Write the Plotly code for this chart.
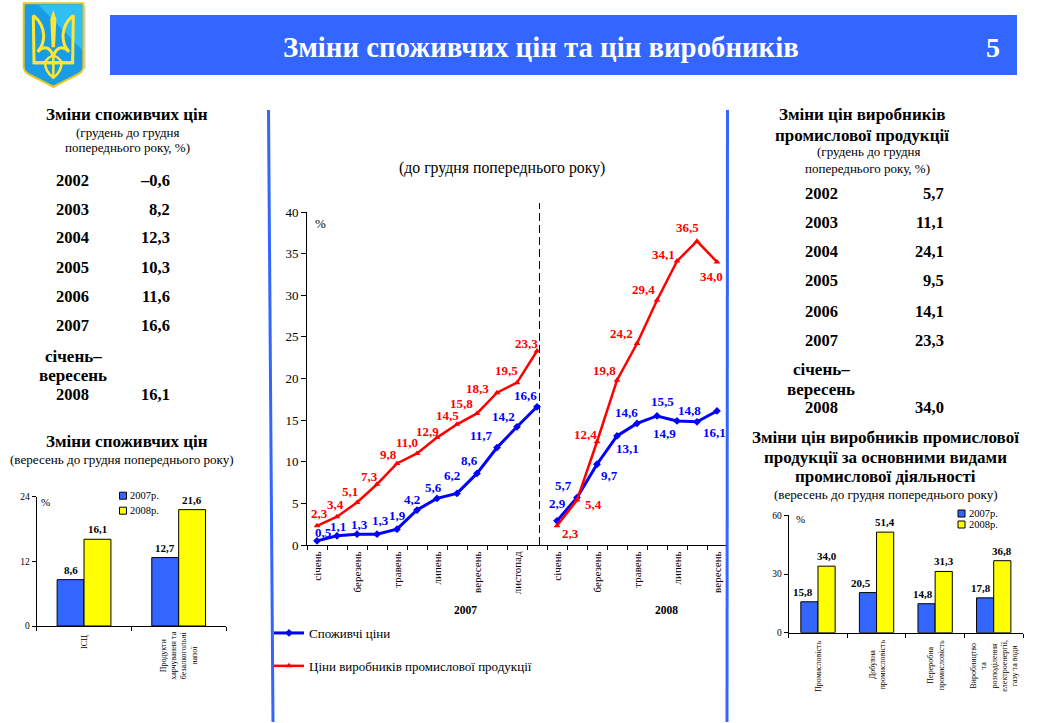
import plotly.graph_objects as go

W, H = 1037, 723
SERIF = "Liberation Serif"
BLUE = "#0000ff"
RED = "#ff0000"
BAR_BLUE = "#3366ff"
BAR_YELLOW = "#ffff00"

# ---- data ----
months_2007 = ["січень", "лютий", "березень", "квітень", "травень", "червень", "липень",
               "серпень", "вересень", "жовтень", "листопад", "грудень"]
months_2008 = ["січень", "лютий", "березень", "квітень", "травень", "червень", "липень",
               "серпень", "вересень"]
cpi_2007 = [0.5, 1.1, 1.3, 1.3, 1.9, 4.2, 5.6, 6.2, 8.6, 11.7, 14.2, 16.6]
cpi_2008 = [2.9, 5.7, 9.7, 13.1, 14.6, 15.5, 14.9, 14.8, 16.1]
ppi_2007 = [2.3, 3.4, 5.1, 7.3, 9.8, 11.0, 12.9, 14.5, 15.8, 18.3, 19.5, 23.3]
ppi_2008 = [2.3, 5.4, 12.4, 19.8, 24.2, 29.4, 34.1, 36.5, 34.0]

cpi_table_years = ["2002", "2003", "2004", "2005", "2006", "2007", "2008"]
cpi_table_values = ["–0,6", "8,2", "12,3", "10,3", "11,6", "16,6", "16,1"]
ppi_table_values = ["5,7", "11,1", "24,1", "9,5", "14,1", "23,3", "34,0"]

left_categories = ["ІСЦ", "Продукти<br>харчування та<br>безалкогольні<br>напої"]
left_2007 = [8.6, 12.7]
left_2008 = [16.1, 21.6]

right_categories = ["Промисловість", "Добувна<br>промисловість", "Переробна<br>промисловість",
                    "Виробництво<br>та<br>розподілення<br>електроенергії,<br>газу та води"]
right_2007 = [15.8, 20.5, 14.8, 17.8]
right_2008 = [34.0, 51.4, 31.3, 36.8]

# label offsets in pixels from each point (dx, dy with up positive)
cpi_off = [(6, 8), (1, 9), (2, 10), (3, 13.5), (0, 14), (-5, 11), (-4, 11), (-5, 18), (-8, 12.6),
           (-16, 12), (-14, 10.7), (-12, 11),
           (0, 17.5), (-14, 12), (12, -11), (10, -13), (-11, 11), (5, 14.6), (-13, -12.4), (-8, 11.4), (-3, -22)]
ppi_off = [(2, 12), (-2, 12), (-7, 11), (-8, 7.5), (-9, 9), (-10, 11), (-10, 6.5), (-10, 8.5), (-16, 10),
           (-20, 4), (-11, 12), (-11, 8),
           (13, -8), (16, -4), (-12, 7), (-13, 10), (-16, 10), (-14, 11), (-14, 7), (-10, 14), (-6, -15)]


def px(x):
    return x / W


def py(y):
    return 1 - y / H


def text(x, y, s, size=15, bold=False, anchor="center", color="black", angle=0):
    return dict(xref="paper", yref="paper", x=px(x), y=py(y), text=f"<b>{s}</b>" if bold else s,
                showarrow=False, xanchor=anchor, yanchor="middle", textangle=angle,
                font=dict(family=SERIF, size=size, color=color), align="center")


annotations = []
shapes = []

# ---- emblem (decorative, drawn in zoomed reference coords) ----
def ex(v):
    return px(15 + v / 3)


def ey(v):
    return py(v / 3)


def path(cmds):
    out = []
    for c in cmds:
        op = c[0]
        pts = c[1:]
        coords = []
        for i in range(0, len(pts), 2):
            coords.append(f"{ex(pts[i]):.5f},{ey(pts[i + 1]):.5f}")
        out.append(op + " ".join(coords))
    return " ".join(out)


def mirror(cmds):
    out = []
    for c in cmds:
        pts = list(c[1:])
        for i in range(0, len(pts), 2):
            pts[i] = 230 - pts[i]
        out.append((c[0], *pts))
    return out


shield = [("M", 26, 10), ("L", 205, 10), ("L", 205, 200), ("Q", 205, 215, 185, 225),
          ("L", 115, 260), ("L", 45, 225), ("Q", 26, 215, 26, 200), ("Z",)]
shapes.append(dict(type="path", xref="paper", yref="paper",
                   path=path([("M", 32, 16), ("L", 212, 16), ("L", 212, 205), ("L", 115, 266), ("L", 32, 205), ("Z",)]),
                   fillcolor="#d8d8d8", line=dict(width=0)))
shapes.append(dict(type="path", xref="paper", yref="paper", path=path(shield),
                   fillcolor="#1a9ce4", line=dict(color="#e8c820", width=2)))
shapes.append(dict(type="path", xref="paper", yref="paper",
                   path=path([("M", 70, 14), ("L", 202, 14), ("L", 202, 150), ("Z",)]),
                   fillcolor="#35c8f8", opacity=0.8, line=dict(width=0)))
shapes.append(dict(type="path", xref="paper", yref="paper",
                   path=path([("M", 115, 30), ("L", 124, 58), ("L", 120, 142), ("L", 110, 142), ("L", 106, 58), ("Z",)]),
                   fillcolor="#ffe633", line=dict(width=0)))
tri_left = [
    [("M", 55, 46), ("L", 57, 188), ("L", 175, 188)],
    [("M", 55, 46), ("Q", 84, 70, 86, 105), ("Q", 87, 135, 68, 155)],
    [("M", 68, 155), ("Q", 98, 128, 114, 165)],
]
for p in tri_left:
    shapes.append(dict(type="path", xref="paper", yref="paper", path=path(p),
                       line=dict(color="#ffe633", width=3)))
    shapes.append(dict(type="path", xref="paper", yref="paper", path=path(mirror(p)),
                       line=dict(color="#ffe633", width=3)))
shapes.append(dict(type="path", xref="paper", yref="paper",
                   path=path([("M", 90, 186), ("Q", 90, 215, 115, 233), ("Q", 140, 215, 140, 186),
                              ("Q", 115, 150, 90, 186), ("Z",)]),
                   line=dict(color="#ffe633", width=2.5)))
shapes.append(dict(type="path", xref="paper", yref="paper",
                   path=path([("M", 115, 165), ("L", 115, 233)]),
                   line=dict(color="#ffe633", width=2.5)))

# ---- header ----
shapes.append(dict(type="rect", xref="paper", yref="paper", x0=px(110), x1=px(1017), y0=py(75), y1=py(15),
                   fillcolor=BAR_BLUE, line=dict(width=0)))
annotations.append(text(540.5, 47.5, "Зміни споживчих цін та цін виробників", 28.8, True, color="white"))
annotations.append(text(993, 47.5, "5", 28, True, color="white"))

# ---- vertical rules ----
shapes.append(dict(type="line", xref="paper", yref="paper", x0=px(268.5), x1=px(273), y0=py(110), y1=py(722),
                   line=dict(color=BAR_BLUE, width=3)))
shapes.append(dict(type="line", xref="paper", yref="paper", x0=px(727.5), x1=px(727), y0=py(110), y1=py(722),
                   line=dict(color=BAR_BLUE, width=3)))

# ---- left column text ----
annotations += [
    text(127, 115, "Зміни споживчих цін", 17, True),
    text(127, 132.5, "(грудень до грудня", 13),
    text(127, 148, "попереднього року, %)", 13),
    text(127, 441, "Зміни споживчих цін", 17, True),
    text(121.5, 459, "(вересень до грудня попереднього року)", 13.1),
]
left_rows = [180.3, 209, 238, 267.3, 296.7, 325.7, 395]
for yr, val, y in zip(cpi_table_years, cpi_table_values, left_rows):
    annotations.append(text(72.7, y, yr, 16.5, True))
    annotations.append(text(172, y, val, 16.5, True, anchor="right"))
annotations.append(text(73, 356.7, "січень–", 17, True))
annotations.append(text(72.5, 375.7, "вересень", 17, True))

# ---- right column text ----
annotations += [
    text(861.7, 115, "Зміни цін виробників", 17, True),
    text(861.7, 135.7, "промислової продукції", 17, True),
    text(868, 151.7, "(грудень до грудня", 13),
    text(867, 168.3, "попереднього року, %)", 13),
    text(885.7, 437.7, "Зміни цін виробників промислової", 17, True),
    text(885.7, 457.3, "продукції за основними видами", 17, True),
    text(885.7, 476.7, "промислової діяльності", 17, True),
    text(885.7, 494, "(вересень до грудня попереднього року)", 13.1),
]
right_rows = [193.3, 222.7, 251.7, 281, 311, 340, 407.7]
for yr, val, y in zip(cpi_table_years, ppi_table_values, right_rows):
    annotations.append(text(821, y, yr, 16.5, True))
    annotations.append(text(946, y, val, 16.5, True, anchor="right"))
annotations.append(text(821.7, 370, "січень–", 17, True))
annotations.append(text(821, 389.3, "вересень", 17, True))

# ---- main chart ----
annotations += [
    text(502, 168, "(до грудня попереднього року)", 15.8),
    text(320, 223, "%", 13),
    text(465, 610, "2007", 11.5, True),
    text(666, 610, "2008", 11.5, True),
]

idx_2007 = list(range(len(cpi_2007)))
idx_2008 = [len(cpi_2007) + i for i in range(len(cpi_2008))]
xs = idx_2007 + [None] + idx_2008
all_months = months_2007 + months_2008

fig = go.Figure()
fig.add_trace(go.Scatter(x=xs, y=cpi_2007 + [None] + cpi_2008, name="Споживчі ціни", mode="lines+markers",
                         line=dict(color=BLUE, width=3), marker=dict(symbol="diamond", size=6, color=BLUE),
                         legendgroup="a", xaxis="x", yaxis="y", cliponaxis=False))
fig.add_trace(go.Scatter(x=xs, y=ppi_2007 + [None] + ppi_2008, name="Ціни виробників промислової продукції",
                         mode="lines+markers", line=dict(color=RED, width=2.5),
                         marker=dict(symbol="triangle-up", size=6, color=RED),
                         legendgroup="b", xaxis="x", yaxis="y", cliponaxis=False))

all_idx = idx_2007 + idx_2008
for series, off, color in ((cpi_2007 + cpi_2008, cpi_off, BLUE), (ppi_2007 + ppi_2008, ppi_off, RED)):
    for i, v, (dx, dy) in zip(all_idx, series, off):
        annotations.append(dict(xref="x", yref="y", x=i, y=v, xshift=dx, yshift=dy, showarrow=False,
                                text="<b>" + f"{v:.1f}".replace(".", ",") + "</b>",
                                font=dict(family=SERIF, size=13, color=color),
                                xanchor="center", yanchor="middle"))

shapes.append(dict(type="line", xref="x", yref="paper", x0=11.125, x1=11.125, y0=py(545), y1=py(203),
                   line=dict(color="black", width=1, dash="8px,4px")))

# ---- small bar charts ----
def bars(xaxis, yaxis, vals07, vals08, width):
    xv = list(range(len(vals07)))
    fig.add_trace(go.Bar(x=xv, y=vals07, width=width, offset=-width, marker=dict(color=BAR_BLUE, line=dict(color="black", width=1)),
                         name="2007р.", showlegend=False, xaxis=xaxis, yaxis=yaxis))
    fig.add_trace(go.Bar(x=xv, y=vals08, width=width, offset=0, marker=dict(color=BAR_YELLOW, line=dict(color="black", width=1)),
                         name="2008р.", showlegend=False, xaxis=xaxis, yaxis=yaxis))


bars("x2", "y2", left_2007, left_2008, 0.284)
bars("x3", "y3", right_2007, right_2008, 0.293)


def bar_labels(xa, ya, vals, centre, shifts):
    for i, (v, s) in enumerate(zip(vals, shifts)):
        annotations.append(dict(xref=xa, yref=ya, x=i + centre, y=v, xshift=s, yshift=10, showarrow=False,
                                text="<b>" + f"{v:.1f}".replace(".", ",") + "</b>",
                                font=dict(family=SERIF, size=11, color="black"),
                                xanchor="center", yanchor="middle"))


bar_labels("x2", "y2", left_2007, -0.142, [0, 0])
bar_labels("x2", "y2", left_2008, 0.142, [0, 0])
bar_labels("x3", "y3", right_2007, -0.146, [-6, -7, -4, -4])
bar_labels("x3", "y3", right_2008, 0.146, [0, 0, 0, 0])


def category_labels(xa, cats, tops):
    # rotated, centre-aligned multi-line category names
    for i, (c, top) in enumerate(zip(cats, tops)):
        annotations.append(dict(xref=xa, yref="paper", x=i, y=py(top), text=c, showarrow=False, textangle=-90,
                                xanchor="center", yanchor="top", align="center",
                                font=dict(family=SERIF, size=8, color="black")))


category_labels("x2", left_categories, [633, 630])
category_labels("x3", right_categories, [638, 638, 638, 638])

annotations += [text(45, 502, "%", 11), text(800.5, 519, "%", 11)]


def mini_legend(x, y1, y2):
    for y, col, lab in ((y1, BAR_BLUE, "2007р."), (y2, BAR_YELLOW, "2008р.")):
        shapes.append(dict(type="rect", xref="paper", yref="paper", x0=px(x), x1=px(x + 7), y0=py(y + 3.5), y1=py(y - 3.5),
                           fillcolor=col, line=dict(color="black", width=1)))
        annotations.append(text(x + 8.5, y, lab, 10.5, anchor="left"))


mini_legend(119.5, 495.7, 510.7)
mini_legend(958, 513.5, 524.5)


def x_axis(domain, n, anchor, labels, vals, size, show=True):
    return dict(domain=[px(domain[0]), px(domain[1])], range=[-0.5, n - 0.5], anchor=anchor, showgrid=False,
                zeroline=False, showline=True, linecolor="black", linewidth=1,
                tickmode="array", tickvals=vals, ticktext=labels, tickangle=-90, ticks="outside", ticklen=1,
                showticklabels=show, tickcolor="rgba(0,0,0,0)", tickfont=dict(family=SERIF, size=size, color="black"),
                minor=dict(tickmode="linear", tick0=-0.5, dtick=1, ticks="outside", ticklen=4, tickcolor="black", tickwidth=1))


def y_axis(domain, top, dtick, anchor, size, ticklen=5):
    return dict(domain=[py(domain[1]), py(domain[0])], range=[0, top], anchor=anchor, showgrid=False, zeroline=False,
                showline=True, linecolor="black", linewidth=1, tickmode="linear", tick0=0, dtick=dtick,
                ticks="outside", ticklen=ticklen, tickcolor="black", tickfont=dict(family=SERIF, size=size, color="black"))


fig.update_layout(
    width=W, height=H, autosize=False, margin=dict(l=0, r=0, t=0, b=0, autoexpand=False),
    paper_bgcolor="white", plot_bgcolor="rgba(0,0,0,0)", barmode="overlay",
    font=dict(family=SERIF, color="black"),
    xaxis=x_axis((307, 727), 21, "y", [all_months[i] for i in range(0, 11, 2)] + [all_months[i] for i in range(12, 21, 2)],
                 list(range(0, 11, 2)) + list(range(12, 21, 2)), 11),
    yaxis=y_axis((212, 545), 40, 5, "x", 13),
    xaxis2=x_axis((36.7, 226), 2, "y2", left_categories, [0, 1], 8, show=False),
    yaxis2=y_axis((496.7, 626), 24, 12, "x2", 9.5, 4),
    xaxis3=x_axis((788.7, 1023), 4, "y3", right_categories, [0, 1, 2, 3], 8, show=False),
    yaxis3=y_axis((515.3, 632.7), 60, 30, "x3", 9.5, 4),
    annotations=annotations, shapes=shapes, showlegend=True, hovermode=False,
    legend=dict(x=px(269), y=py(618), xanchor="left", yanchor="top", tracegroupgap=13, bgcolor="rgba(0,0,0,0)",
                font=dict(family=SERIF, size=13, color="black")),
)

fig.write_html("out.html", post_script="document.body.style.margin='0';document.body.style.overflow='hidden';",
               config={"displayModeBar": False})
